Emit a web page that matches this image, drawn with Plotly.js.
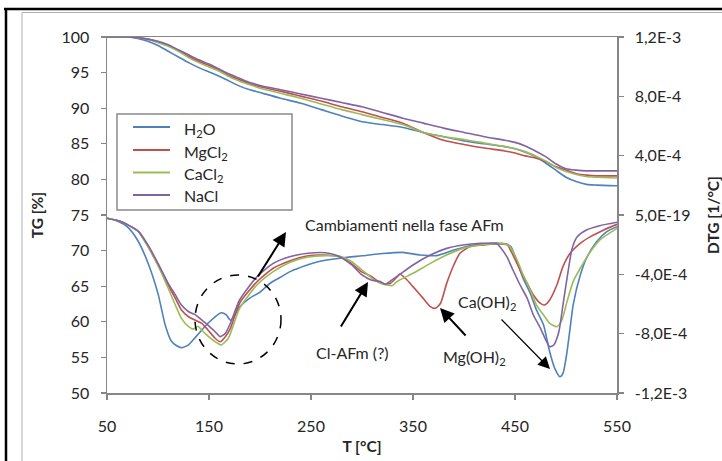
<!DOCTYPE html>
<html>
<head>
<meta charset="utf-8">
<script src="https://cdn.plot.ly/plotly-3.0.1.min.js"></script>
<style>
  html, body { margin: 0; padding: 0; background: #ffffff; }
  #chart { width: 722px; height: 461px; }
</style>
</head>
<body>
<div id="chart"></div>
<script>
// Sample names and colours
const seriesNames = ['H<sub>2</sub>O', 'MgCl<sub>2</sub>', 'CaCl<sub>2</sub>', 'NaCl'];
const seriesColors = ['#4F81BD', '#C0504D', '#9BBB59', '#8064A2'];

// TG [%] curves on a common temperature grid [°C]
const tgTemp = [50,70,80,90,100,110,120,130,140,150,160,170,180,190,200,220,240,260,280,300,320,340,360,380,400,420,440,450,460,470,480,490,500,510,520,530,550];
const tgH2O  = [100,100,99.8,99.4,98.8,98.0,97.2,96.4,95.7,95.1,94.5,93.8,93.1,92.6,92.2,91.4,90.7,89.8,88.9,88.1,87.7,87.3,86.6,86.0,85.4,85.0,84.6,84.3,83.8,83.2,82.3,81.3,80.3,79.7,79.3,79.2,79.1];
const tgMgCl2 = [100,100,99.9,99.7,99.3,98.8,98.1,97.3,96.6,96.0,95.4,94.6,94.0,93.4,93.0,92.4,91.7,91.0,90.2,89.5,88.7,87.9,86.6,85.5,84.9,84.4,84.0,83.7,83.3,83.0,82.5,81.8,81.3,80.8,80.6,80.5,80.5];
const tgCaCl2 = [100,100,99.9,99.7,99.2,98.7,98.0,97.1,96.4,95.8,95.2,94.4,93.8,93.3,92.8,92.1,91.4,90.6,89.8,89.1,88.4,87.7,86.6,86.0,85.6,85.1,84.6,84.3,83.9,83.3,82.6,81.7,81.1,80.7,80.4,80.3,80.2];
const tgNaCl = [100,100,99.9,99.7,99.4,98.9,98.2,97.5,96.8,96.2,95.5,94.8,94.2,93.6,93.2,92.6,92.0,91.4,90.8,90.2,89.4,88.6,87.9,87.2,86.6,86.0,85.5,85.2,84.7,84.0,83.2,82.2,81.5,81.3,81.2,81.2,81.2];

// DTG [1/°C] curves, each with its own temperature points
const dtgTempH2O = [50,60,70,80,90,100,107,113,118,123,130,136,143,149,156,162,167,171,175,180,190,200,210,220,230,245,260,280,300,320,340,357,373,390,406,422,442,446,452,458,465,471,478,484,489,494,497,501,504,507,514,520,530,540,550];
const dtgH2O = [-0.22e-4,-0.4e-4,-0.8e-4,-1.7e-4,-3.2e-4,-5.3e-4,-7.4e-4,-8.5e-4,-8.8e-4,-8.95e-4,-8.75e-4,-8.3e-4,-7.75e-4,-7.3e-4,-6.86e-4,-6.59e-4,-6.74e-4,-7.1e-4,-6.8e-4,-6.2e-4,-5.6e-4,-5.2e-4,-4.6e-4,-4.2e-4,-3.8e-4,-3.4e-4,-3.1e-4,-2.9e-4,-2.75e-4,-2.6e-4,-2.52e-4,-2.7e-4,-2.74e-4,-2.36e-4,-2.07e-4,-1.98e-4,-1.98e-4,-2.13e-4,-3.15e-4,-4.27e-4,-5.28e-4,-6.4e-4,-7.42e-4,-9.22e-4,-10.34e-4,-10.9e-4,-10.67e-4,-9.22e-4,-7.64e-4,-6.07e-4,-4.05e-4,-2.92e-4,-1.8e-4,-1.12e-4,-0.79e-4];

const dtgTempMgCl2 = [50,64,74,81,90,100,110,117,123,130,136,143,149,156,161,166,171,180,197,213,229,246,262,280,290,300,308,318,323,328,334,337,343,350,360,367,372,377,383,390,396,406,419,432,442,448,455,462,468,475,479,484,491,497,504,514,524,537,550];
const dtgMgCl2 = [-0.22e-4,-0.45e-4,-0.8e-4,-1.12e-4,-2.1e-4,-3.37e-4,-4.72e-4,-5.62e-4,-6.4e-4,-6.86e-4,-7.08e-4,-7.3e-4,-7.75e-4,-8.31e-4,-8.54e-4,-8.2e-4,-7.64e-4,-5.95e-4,-4.5e-4,-3.59e-4,-3.1e-4,-2.76e-4,-2.7e-4,-2.85e-4,-3.3e-4,-3.85e-4,-4.1e-4,-4.55e-4,-4.65e-4,-4.6e-4,-4.2e-4,-3.98e-4,-4.3e-4,-4.83e-4,-5.62e-4,-6.18e-4,-6.29e-4,-5.95e-4,-4.61e-4,-3.37e-4,-2.58e-4,-2.13e-4,-2.02e-4,-1.91e-4,-1.98e-4,-2.7e-4,-3.71e-4,-4.61e-4,-5.39e-4,-5.96e-4,-6.07e-4,-5.73e-4,-4.72e-4,-3.48e-4,-2.58e-4,-1.91e-4,-1.46e-4,-1.01e-4,-0.63e-4];

const dtgTempCaCl2 = [50,64,74,81,90,100,110,117,123,130,135,139,146,156,162,169,180,197,213,229,246,264,280,290,300,310,318,324,330,334,350,367,383,399,416,432,440,445,452,458,465,471,478,484,491,496,501,507,514,524,533,550];
const dtgCaCl2 = [-0.22e-4,-0.45e-4,-0.8e-4,-1.12e-4,-2.1e-4,-3.4e-4,-4.94e-4,-6.07e-4,-6.97e-4,-7.53e-4,-7.69e-4,-7.5e-4,-7.98e-4,-8.54e-4,-8.76e-4,-8.31e-4,-6.29e-4,-4.72e-4,-3.82e-4,-3.2e-4,-2.85e-4,-2.74e-4,-2.81e-4,-3.15e-4,-3.71e-4,-4.27e-4,-4.61e-4,-4.72e-4,-4.76e-4,-4.5e-4,-3.93e-4,-3.26e-4,-2.7e-4,-2.25e-4,-2.02e-4,-1.91e-4,-1.95e-4,-2.13e-4,-3.03e-4,-4.04e-4,-5.06e-4,-6.07e-4,-6.74e-4,-7.3e-4,-7.53e-4,-7.08e-4,-5.84e-4,-4.49e-4,-3.59e-4,-2.47e-4,-1.69e-4,-0.9e-4];

const dtgTempNaCl = [50,64,74,81,90,100,110,117,123,130,136,143,149,156,161,166,171,180,197,213,229,247,264,274,280,290,300,309,318,323,327,334,350,367,383,399,416,432,435,442,448,455,462,468,475,481,484,488,493,497,502,506,511,520,533,550];
const dtgNaCl = [-0.22e-4,-0.45e-4,-0.8e-4,-1.12e-4,-2.0e-4,-3.26e-4,-4.61e-4,-5.39e-4,-6.07e-4,-6.52e-4,-6.7e-4,-7.08e-4,-7.42e-4,-7.87e-4,-8.2e-4,-7.98e-4,-7.3e-4,-5.73e-4,-4.16e-4,-3.26e-4,-2.81e-4,-2.58e-4,-2.54e-4,-2.7e-4,-2.88e-4,-3.37e-4,-4.04e-4,-4.38e-4,-4.49e-4,-4.67e-4,-4.49e-4,-4.16e-4,-3.37e-4,-2.7e-4,-2.25e-4,-2.02e-4,-1.91e-4,-1.91e-4,-2.13e-4,-2.81e-4,-3.71e-4,-4.72e-4,-5.62e-4,-6.74e-4,-7.64e-4,-8.54e-4,-8.88e-4,-8.76e-4,-7.87e-4,-6.07e-4,-3.82e-4,-2.25e-4,-1.46e-4,-1.01e-4,-0.72e-4,-0.49e-4];

// Axis ticks
const tempTicks = [50, 150, 250, 350, 450, 550];
const tgTicks = [50, 55, 60, 65, 70, 75, 80, 85, 90, 95, 100];
const dtgTickVals = [1.2e-3, 8.0e-4, 4.0e-4, 5.0e-19, -4.0e-4, -8.0e-4, -1.2e-3];
const dtgTickText = ['1,2E-3', '8,0E-4', '4,0E-4', '5,0E-19', '-4,0E-4', '-8,0E-4', '-1,2E-3'];

// Plot-area geometry (pixels) and helpers to place decorations
const FIG_W = 722, FIG_H = 461;
const PL = 107, PR = 617, PT = 37, PB = 393;
const px = x => (x - PL) / (PR - PL);
const py = y => (PB - y) / (PB - PT);

const tgSets = [tgH2O, tgMgCl2, tgCaCl2, tgNaCl];
const dtgTemps = [dtgTempH2O, dtgTempMgCl2, dtgTempCaCl2, dtgTempNaCl];
const dtgSets = [dtgH2O, dtgMgCl2, dtgCaCl2, dtgNaCl];

const traces = [];
seriesNames.forEach((name, i) => {
  traces.push({
    x: tgTemp, y: tgSets[i], name: name, type: 'scatter', mode: 'lines',
    line: {color: seriesColors[i], width: 1.6, shape: 'spline', smoothing: 0.6},
    showlegend: false, yaxis: 'y', hoverinfo: 'skip'
  });
});
seriesNames.forEach((name, i) => {
  traces.push({
    x: dtgTemps[i], y: dtgSets[i], name: name, type: 'scatter', mode: 'lines',
    line: {color: seriesColors[i], width: 1.6, shape: 'spline', smoothing: 0.6},
    showlegend: false, yaxis: 'y2', hoverinfo: 'skip'
  });
});

const axisColor = '#868686';
const textColor = '#262626';
const fontFamily = 'Lato, "Liberation Sans", sans-serif';
const labelFont = {family: fontFamily, size: 16, color: textColor};
const titleFont = {family: fontFamily, size: 15.5, color: textColor};

const shapes = [
  // outer page frame
  {type: 'line', xref: 'paper', yref: 'paper', x0: px(4), x1: px(722), y0: py(9), y1: py(9), line: {color: '#000', width: 2.5}},
  {type: 'line', xref: 'paper', yref: 'paper', x0: px(6), x1: px(6), y0: py(8), y1: py(461), line: {color: '#000', width: 2.5}},
  // chart area border
  {type: 'line', xref: 'paper', yref: 'paper', x0: px(22), x1: px(722), y0: py(12.5), y1: py(12.5), line: {color: '#b0b0b0', width: 1}},
  {type: 'line', xref: 'paper', yref: 'paper', x0: px(22), x1: px(22), y0: py(12.5), y1: py(461), line: {color: '#b0b0b0', width: 1}},
  // legend box
  {type: 'rect', xref: 'paper', yref: 'paper', x0: px(117), x1: px(292), y0: py(114), y1: py(210), line: {color: '#8a8a8a', width: 1.5}, fillcolor: '#ffffff', layer: 'below'},
  // dashed circle around the AFm region
  {type: 'circle', xref: 'paper', yref: 'paper', x0: px(195), x1: px(281), y0: py(275), y1: py(364), line: {color: '#000', width: 1.5, dash: 'dash'}}
];

const annotations = [
  {text: 'Cambiamenti nella fase AFm', x: px(404), y: py(225)},
  {text: 'Cl-AFm (?)', x: px(352), y: py(352)},
  {text: 'Mg(OH)<sub>2</sub>', x: px(474), y: py(357)},
  {text: 'Ca(OH)<sub>2</sub>', x: px(487), y: py(302)}
].map(a => Object.assign({xref: 'paper', yref: 'paper', showarrow: false, xanchor: 'center', yanchor: 'middle', font: labelFont}, a));

const arrowStyle = {showarrow: true, arrowhead: 2, arrowsize: 1.4, arrowwidth: 2, arrowcolor: '#000', standoff: 0, text: '', xref: 'paper', yref: 'paper'};
annotations.push(
  Object.assign({}, arrowStyle, {x: px(286), y: py(232), ax: 257 - 286, ay: 278 - 232}),
  Object.assign({}, arrowStyle, {x: px(368), y: py(282), ax: 340 - 368, ay: 328 - 282}),
  Object.assign({}, arrowStyle, {x: px(440), y: py(308), ax: 467 - 440, ay: 337 - 308}),
  Object.assign({}, arrowStyle, {x: px(550), y: py(369), ax: 500 - 550, ay: 318 - 369, arrowwidth: 1.2, arrowsize: 2})
);

// Legend: sample line + label for each series
const legendRows = [127, 150, 172.5, 195];
seriesNames.forEach((name, i) => {
  shapes.push({type: 'line', xref: 'paper', yref: 'paper', x0: px(133), x1: px(170), y0: py(legendRows[i]), y1: py(legendRows[i]), line: {color: seriesColors[i], width: 2}});
  annotations.push({text: name, xref: 'paper', yref: 'paper', x: px(182), y: py(legendRows[i] + (name.indexOf('<sub>') >= 0 ? 2 : 0)), xanchor: 'left', yanchor: 'middle', showarrow: false, font: labelFont});
});

const layout = {
  width: FIG_W, height: FIG_H,
  margin: {l: PL, r: FIG_W - PR, t: PT, b: FIG_H - PB, pad: 0},
  paper_bgcolor: '#ffffff', plot_bgcolor: '#ffffff',
  font: {family: fontFamily, size: 16, color: textColor},
  showlegend: false,
  xaxis: {
    range: [50, 550], tickvals: tempTicks, showgrid: false, zeroline: false,
    showline: true, linecolor: axisColor, linewidth: 1.5, mirror: true,
    ticks: 'outside', ticklen: 5, tickcolor: axisColor, tickwidth: 1.2,
    ticklabelstandoff: 13, tickfont: labelFont,
    title: {text: '<b>T [°C]</b>', font: titleFont, standoff: 7}
  },
  yaxis: {
    range: [50, 100], tickvals: tgTicks, showgrid: false, zeroline: false,
    showline: true, linecolor: axisColor, linewidth: 1.5,
    ticks: 'outside', ticklen: 5, tickcolor: axisColor, tickwidth: 1.2,
    ticklabelstandoff: 8, tickfont: labelFont,
    title: {text: '<b>TG [%]</b>', font: titleFont, standoff: 14}
  },
  yaxis2: {
    overlaying: 'y', side: 'right', range: [-1.2e-3, 1.2e-3],
    tickvals: dtgTickVals, ticktext: dtgTickText, showgrid: false, zeroline: false,
    showline: true, linecolor: axisColor, linewidth: 1.5,
    ticks: 'outside', ticklen: 5, tickcolor: axisColor, tickwidth: 1.2,
    ticklabelstandoff: 8, tickfont: labelFont,
    title: {text: '<b>DTG [1/°C]</b>', font: titleFont, standoff: 26}
  },
  shapes: shapes,
  annotations: annotations
};

Plotly.newPlot('chart', traces, layout, {displayModeBar: false, staticPlot: true});
</script>
</body>
</html>
